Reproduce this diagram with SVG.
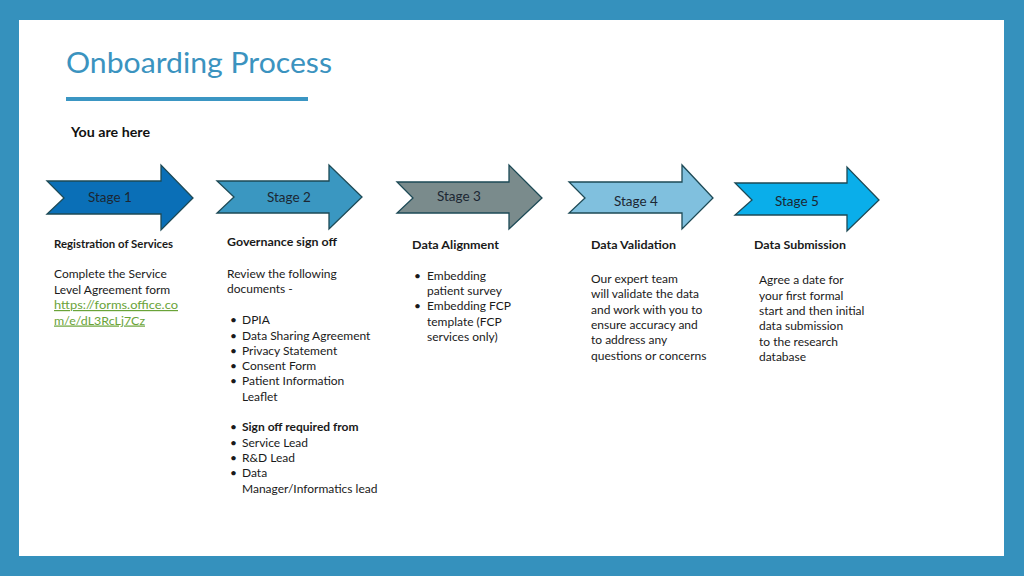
<svg xmlns="http://www.w3.org/2000/svg" width="1024" height="576" viewBox="0 0 1024 576">
<style>
.t{font-family:Lato,"Liberation Sans",sans-serif;fill:#1a1a1a;font-size:12px}
.h{font-family:Lato,"Liberation Sans",sans-serif;fill:#1a1a1a;font-size:12px;font-weight:bold}
.s{font-family:Lato,"Liberation Sans",sans-serif;fill:#1c2733;font-size:13.5px}
.arrow{stroke:#1d4a56;stroke-width:1.3;stroke-linejoin:miter}
.link{fill:#6aa338;text-decoration:underline}
</style>
<rect x="0" y="0" width="1024" height="576" fill="#3591bd"/>
<rect x="19" y="20" width="985" height="536" fill="#ffffff"/>
<g id="title">
<text x="66" y="73" font-family="Lato,'Liberation Sans',sans-serif" font-size="28" fill="#3b93bf" textLength="266" lengthAdjust="spacingAndGlyphs">Onboarding Process</text>
<rect x="66" y="97" width="242" height="4" fill="#3b96c3"/>
<text x="71" y="137" font-family="Lato,'Liberation Sans',sans-serif" font-size="13.5" font-weight="bold" fill="#111" textLength="79" lengthAdjust="spacingAndGlyphs">You are here</text>
</g>
<g id="stage1">
<polygon class="arrow" fill="#0a6fb7" points="47,181 161,181 161,165 193,198 161,230 161,214 47,214 64,198"/>
<text class="s" x="88" y="202">Stage 1</text>
</g>
<g id="stage2">
<polygon class="arrow" fill="#3a97c1" points="217,181 329,181 329,165 362,197 329,229 329,213 217,213 234,197"/>
<text class="s" x="267" y="202">Stage 2</text>
</g>
<g id="stage3">
<polygon class="arrow" fill="#7a8b8c" points="397,182 509,182 509,165 542,198 509,229 509,213 397,213 413,198"/>
<text class="s" x="437" y="201">Stage 3</text>
</g>
<g id="stage4">
<polygon class="arrow" fill="#80c0de" points="569,182 682,182 682,165 713,198 682,229 682,213 569,213 585,198"/>
<text class="s" x="614" y="206">Stage 4</text>
</g>
<g id="stage5">
<polygon class="arrow" fill="#0aaeea" points="735,183 847,183 847,167 879,200 847,231 847,215 735,215 752,200"/>
<text class="s" x="775" y="206">Stage 5</text>
</g>
<g id="connectors"></g>
<g id="col1">
<text class="h" x="54" y="248" font-size="10.9" textLength="119" lengthAdjust="spacingAndGlyphs">Registration of Services</text>
<text class="t" x="54" y="278">Complete the Service</text>
<text class="t" x="54" y="293.5">Level Agreement form</text>
<text class="t link" x="54" y="309" textLength="124" lengthAdjust="spacingAndGlyphs">https://forms.office.co</text>
<text class="t link" x="54" y="324.5" textLength="91" lengthAdjust="spacingAndGlyphs">m/e/dL3RcLj7Cz</text>
</g>
<g id="col2">
<text class="h" x="227" y="246" textLength="110" lengthAdjust="spacingAndGlyphs">Governance sign off</text>
<text class="t" x="227" y="277.5">Review the following</text>
<text class="t" x="227" y="293">documents -</text>
<text class="t" x="230" y="324">•</text><text class="t" x="242" y="324">DPIA</text>
<text class="t" x="230" y="339.5">•</text><text class="t" x="242" y="339.5">Data Sharing Agreement</text>
<text class="t" x="230" y="354.5">•</text><text class="t" x="242" y="354.5">Privacy Statement</text>
<text class="t" x="230" y="370">•</text><text class="t" x="242" y="370">Consent Form</text>
<text class="t" x="230" y="385">•</text><text class="t" x="242" y="385">Patient Information</text>
<text class="t" x="242" y="400.5">Leaflet</text>
<text class="t" x="230" y="431">•</text><text class="t" x="242" y="431" font-weight="bold">Sign off required from</text>
<text class="t" x="230" y="446.5">•</text><text class="t" x="242" y="446.5">Service Lead</text>
<text class="t" x="230" y="462">•</text><text class="t" x="242" y="462">R&amp;D Lead</text>
<text class="t" x="230" y="477">•</text><text class="t" x="242" y="477">Data</text>
<text class="t" x="242" y="492.5">Manager/Informatics lead</text>
</g>
<g id="col3">
<text class="h" x="412" y="249" textLength="87" lengthAdjust="spacingAndGlyphs">Data Alignment</text>
<text class="t" x="414" y="279.5">•</text><text class="t" x="427" y="279.5">Embedding</text>
<text class="t" x="427" y="295">patient survey</text>
<text class="t" x="414" y="310">•</text><text class="t" x="427" y="310">Embedding FCP</text>
<text class="t" x="427" y="326">template (FCP</text>
<text class="t" x="427" y="341">services only)</text>
</g>
<g id="col4">
<text class="h" x="591" y="249" textLength="85" lengthAdjust="spacingAndGlyphs">Data Validation</text>
<text class="t" x="591" y="283">Our expert team</text>
<text class="t" x="591" y="298">will validate the data</text>
<text class="t" x="591" y="313.5">and work with you to</text>
<text class="t" x="591" y="329">ensure accuracy and</text>
<text class="t" x="591" y="344">to address any</text>
<text class="t" x="591" y="359.5">questions or concerns</text>
</g>
<g id="col5">
<text class="h" x="754" y="249" textLength="92" lengthAdjust="spacingAndGlyphs">Data Submission</text>
<text class="t" x="759" y="284">Agree a date for</text>
<text class="t" x="759" y="299.5">your first formal</text>
<text class="t" x="759" y="315">start and then initial</text>
<text class="t" x="759" y="330">data submission</text>
<text class="t" x="759" y="345.5">to the research</text>
<text class="t" x="759" y="361">database</text>
</g>
</svg>
